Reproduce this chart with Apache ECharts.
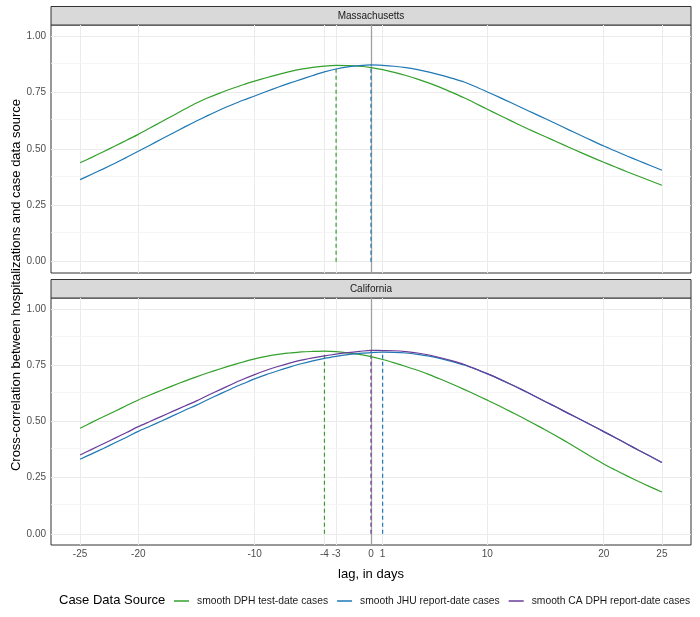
<!DOCTYPE html>
<html>
<head>
<meta charset="utf-8">
<script src="https://cdn.jsdelivr.net/npm/echarts@6/dist/echarts.min.js"></script>
<style>
  html, body { margin: 0; padding: 0; background: #fff; }
  #chart { width: 700px; height: 617px; }
</style>
</head>
<body>
<div id="chart"></div>
<script>
// lag in days
const lags = [-25,-24,-23,-22,-21,-20,-19,-18,-17,-16,-15,-14,-13,-12,-11,-10,-9,-8,-7,-6,-5,-4,-3,-2,-1,
  0,1,2,3,4,5,6,7,8,9,10,11,12,13,14,15,16,17,18,19,20,21,22,23,24,25];

// Massachusetts
const maDphTest = [0.439,0.463,0.488,0.513,0.539,0.565,0.593,0.621,0.649,0.677,
  0.704,0.727,0.748,0.767,0.785,0.801,0.816,0.830,0.843,0.854,
  0.862,0.868,0.871,0.870,0.867,0.861,0.852,0.840,0.826,0.810,
  0.792,0.772,0.750,0.727,0.702,0.676,0.651,0.626,0.601,0.577,
  0.554,0.531,0.508,0.485,0.463,0.441,0.420,0.399,0.379,0.359,0.339];
const maJhu = [0.364,0.388,0.412,0.437,0.463,0.490,0.517,0.544,0.571,0.598,
  0.624,0.649,0.673,0.695,0.716,0.735,0.755,0.774,0.792,0.809,
  0.826,0.842,0.855,0.864,0.870,0.873,0.871,0.867,0.861,0.852,
  0.841,0.828,0.813,0.797,0.776,0.753,0.730,0.706,0.682,0.658,
  0.634,0.610,0.585,0.561,0.537,0.513,0.491,0.469,0.448,0.427,0.406];

// California
const caDphTest = [0.470,0.496,0.521,0.546,0.571,0.596,0.618,0.639,0.660,0.680,
  0.699,0.717,0.734,0.750,0.765,0.779,0.790,0.799,0.805,0.810,
  0.812,0.813,0.811,0.806,0.799,0.789,0.776,0.761,0.745,0.728,
  0.709,0.688,0.666,0.643,0.619,0.595,0.570,0.544,0.518,0.490,
  0.462,0.433,0.403,0.372,0.341,0.311,0.284,0.258,0.233,0.209,0.186];
const caJhu = [0.332,0.356,0.380,0.405,0.430,0.456,0.479,0.502,0.526,0.550,
  0.573,0.598,0.622,0.646,0.668,0.690,0.709,0.726,0.742,0.757,
  0.770,0.781,0.790,0.798,0.803,0.807,0.809,0.808,0.805,0.799,
  0.791,0.780,0.767,0.752,0.733,0.712,0.690,0.666,0.641,0.615,
  0.588,0.562,0.535,0.509,0.482,0.455,0.428,0.400,0.372,0.345,0.317];
const caDphReport = [0.351,0.376,0.401,0.426,0.451,0.477,0.500,0.523,0.546,0.569,
  0.592,0.617,0.641,0.665,0.688,0.709,0.728,0.745,0.760,0.773,
  0.783,0.792,0.800,0.807,0.812,0.817,0.816,0.815,0.811,0.805,
  0.796,0.784,0.770,0.754,0.734,0.713,0.690,0.666,0.641,0.615,
  0.588,0.562,0.535,0.509,0.482,0.455,0.428,0.400,0.372,0.345,0.317];

const seriesNames = ['smooth DPH test-date cases', 'smooth JHU report-date cases', 'smooth CA DPH report-date cases'];
const panelNames = ['Massachusetts', 'California'];
const xTicks = [-25, -20, -10, -4, -3, 0, 1, 10, 20, 25];
const yTicks = [0, 0.25, 0.5, 0.75, 1];
const yMinor = [0.125, 0.375, 0.625, 0.875];

const FONT = '"Liberation Sans", Arial, sans-serif';
const colors = ['#33a02c', '#1f78b4', '#6a3d9a'];

const panels = [
  [{ k: 0, values: maDphTest }, { k: 1, values: maJhu }],
  [{ k: 0, values: caDphTest }, { k: 1, values: caJhu }, { k: 2, values: caDphReport }]
];

function peakOf(vals) {
  let best = 0;
  vals.forEach((v, i) => { if (v > vals[best]) best = i; });
  return [lags[best], vals[best]];
}

const grids = [
  { left: 51, top: 25, width: 640, height: 248 },
  { left: 51, top: 298, width: 640, height: 247 }
];

var chart = echarts.init(document.getElementById('chart'));

const xAxes = [], yAxes = [], series = [];
grids.forEach(function (g, i) {
  g.show = true;
  g.borderColor = '#333333';
  g.borderWidth = 1;
  g.backgroundColor = 'transparent';
  const bottom = i === grids.length - 1;
  xAxes.push({
    type: 'value', gridIndex: i, min: -27.5, max: 27.5,
    axisLine: { show: false },
    splitLine: { show: false },
    axisTick: { show: bottom, customValues: xTicks, length: 3.5, lineStyle: { color: '#333333' } },
    axisLabel: { show: bottom, customValues: xTicks, fontSize: 10, color: '#4d4d4d', fontFamily: FONT, margin: 4 },
    name: bottom ? 'lag, in days' : '',
    nameLocation: 'middle', nameGap: 23,
    nameTextStyle: { fontSize: 13, color: '#000', fontFamily: FONT }
  });
  yAxes.push({
    type: 'value', gridIndex: i, min: -0.05, max: 1.05,
    axisLine: { show: false },
    splitLine: { show: false },
    axisTick: { show: true, customValues: yTicks, length: 3.5, lineStyle: { color: '#333333' } },
    axisLabel: {
      customValues: yTicks, fontSize: 10, color: '#4d4d4d', fontFamily: FONT, margin: 5,
      formatter: function (v) { return v.toFixed(2); }
    }
  });

  // background grid lines
  series.push({
    type: 'line', xAxisIndex: i, yAxisIndex: i, data: [], silent: true, z: 1,
    markLine: {
      z: 1, silent: true, symbol: ['none', 'none'], label: { show: false }, animation: false,
      emphasis: { disabled: true },
      data: [].concat(
        xTicks.map(v => ({ xAxis: v, lineStyle: { color: '#ebebeb', width: 1, type: 'solid' } })),
        yTicks.map(v => ({ yAxis: v, lineStyle: { color: '#ebebeb', width: 1, type: 'solid' } })),
        yMinor.map(v => ({ yAxis: v, lineStyle: { color: '#f2f2f2', width: 0.8, type: 'solid' } }))
      )
    }
  });
  // zero lag reference line
  series.push({
    type: 'line', xAxisIndex: i, yAxisIndex: i, data: [], silent: true, z: 2,
    markLine: {
      z: 2, silent: true, symbol: ['none', 'none'], label: { show: false }, animation: false,
      emphasis: { disabled: true },
      data: [{ xAxis: 0, lineStyle: { color: '#a0a0a0', width: 1.3, type: 'solid' } }]
    }
  });

  panels[i].forEach(function (s) {
    const c = colors[s.k];
    const pk = peakOf(s.values);
    series.push({
      type: 'line', xAxisIndex: i, yAxisIndex: i, z: 3, silent: true,
      data: [[pk[0], 0], [pk[0], pk[1]]],
      symbol: 'none',
      lineStyle: { color: c, width: 1.2, type: [4, 3] },
      itemStyle: { color: c }
    });
  });
  panels[i].forEach(function (s) {
    const c = colors[s.k];
    series.push({
      name: seriesNames[s.k], type: 'line', xAxisIndex: i, yAxisIndex: i, z: 4,
      data: lags.map((x, n) => [x, s.values[n]]),
      symbol: 'none', smooth: 0.3,
      lineStyle: { color: c, width: 1.2 },
      itemStyle: { color: c },
      emphasis: { disabled: true }
    });
  });
});

const graphic = [];
grids.forEach(function (g, i) {
  graphic.push({
    type: 'rect', silent: true,
    shape: { x: g.left, y: g.top - 18.5, width: g.width, height: 18.5 },
    style: { fill: '#d9d9d9', stroke: '#333333', lineWidth: 1 }
  });
  graphic.push({
    type: 'text', silent: true,
    x: g.left + g.width / 2, y: g.top - 9,
    style: { text: panelNames[i], align: 'center', verticalAlign: 'middle', font: '10px ' + FONT, fill: '#1a1a1a' }
  });
});
graphic.push({
  type: 'text', silent: true, x: 16, y: 285, rotation: Math.PI / 2,
  style: {
    text: 'Cross-correlation between hospitalizations and case data source',
    align: 'center', verticalAlign: 'middle', font: '13px ' + FONT, fill: '#000'
  }
});
graphic.push({
  type: 'text', silent: true, x: 59, y: 600,
  style: { text: 'Case Data Source', align: 'left', verticalAlign: 'middle', font: '13px ' + FONT, fill: '#000' }
});

chart.setOption({
  animation: false,
  backgroundColor: '#ffffff',
  grid: grids,
  xAxis: xAxes,
  yAxis: yAxes,
  legend: {
    data: seriesNames,
    left: 174, top: 596, padding: 0,
    icon: 'rect',
    itemWidth: 15, itemHeight: 1.5, itemGap: 9,
    selectedMode: false,
    textStyle: { fontSize: 10.3, color: '#1a1a1a', fontFamily: FONT, padding: [0, 0, 0, 3] }
  },
  graphic: graphic,
  series: series
});
</script>
</body>
</html>
